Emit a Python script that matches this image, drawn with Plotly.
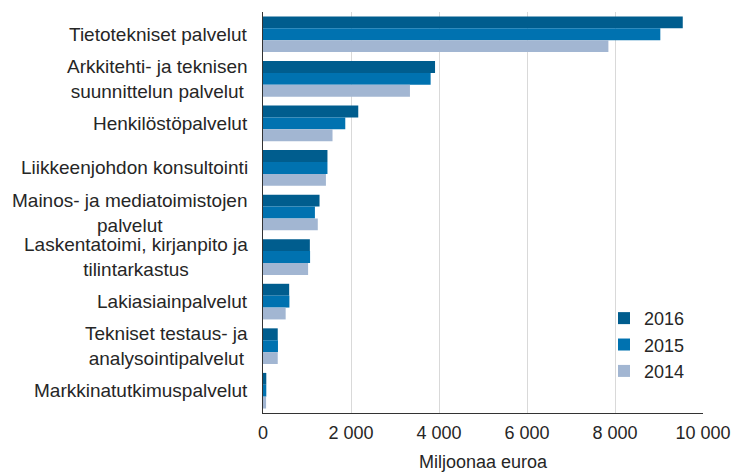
import plotly.graph_objects as go

categories = [
    "Tietotekniset palvelut",
    "Arkkitehti- ja teknisen<br>suunnittelun palvelut",
    "Henkilöstöpalvelut",
    "Liikkeenjohdon konsultointi",
    "Mainos- ja mediatoimistojen<br>palvelut",
    "Laskentatoimi, kirjanpito ja<br>tilintarkastus",
    "Lakiasiainpalvelut",
    "Tekniset testaus- ja<br>analysointipalvelut",
    "Markkinatutkimuspalvelut",
]
values_2016 = [9540, 3910, 2165, 1465, 1285, 1065, 595, 335, 75]
values_2015 = [9030, 3810, 1870, 1465, 1180, 1070, 600, 340, 75]
values_2014 = [7850, 3340, 1580, 1430, 1245, 1025, 515, 335, 70]
series_names = ["2016", "2015", "2014"]
colors = ["#005d8e", "#0072b0", "#a2b6d2"]

FONT = "Liberation Sans, Arial, sans-serif"
TXT = "#262626"

fig = go.Figure()
for name, vals, col in zip(series_names, [values_2016, values_2015, values_2014], colors):
    fig.add_trace(go.Bar(
        y=categories, x=vals, name=name, orientation="h",
        marker=dict(color=col, line=dict(width=0)),
    ))

for c in categories:
    fig.add_annotation(
        x=0, xref="paper", y=c, yref="y", text=c, showarrow=False,
        xanchor="right", yanchor="middle", align="center", xshift=-13,
        font=dict(family=FONT, size=19, color=TXT),
    )

fig.update_layout(
    width=734, height=472,
    margin=dict(l=263, r=31, t=12, b=59, autoexpand=False),
    paper_bgcolor="white", plot_bgcolor="white",
    barmode="group", bargap=0.2, bargroupgap=0,
    font=dict(family=FONT, size=18, color=TXT),
    showlegend=True,
    legend=dict(
        x=0.775, y=0.282, xanchor="left", yanchor="top",
        bgcolor="rgba(0,0,0,0)", font=dict(size=18, color=TXT),
        itemwidth=30, traceorder="normal",
    ),
    xaxis=dict(
        range=[0, 10000], tickvals=[0, 2000, 4000, 6000, 8000, 10000],
        ticktext=["0", "2 000", "4 000", "6 000", "8 000", "10 000"],
        showgrid=True, gridcolor="#d9d9d9", gridwidth=1,
        zeroline=False, showline=True, linecolor="#333333", linewidth=1,
        ticks="", ticklabelstandoff=3, automargin=False,
        title=dict(text="Miljoonaa euroa", standoff=15, font=dict(size=18, color=TXT)),
    ),
    yaxis=dict(
        autorange="reversed", showticklabels=False, showgrid=False, automargin=False,
        zeroline=False, showline=True, linecolor="#333333", linewidth=1, ticks="",
    ),
)

fig.write_html(
    "out.html",
    config={"displayModeBar": False},
    post_script="document.body.style.margin='0';document.body.style.overflow='hidden';",
)
